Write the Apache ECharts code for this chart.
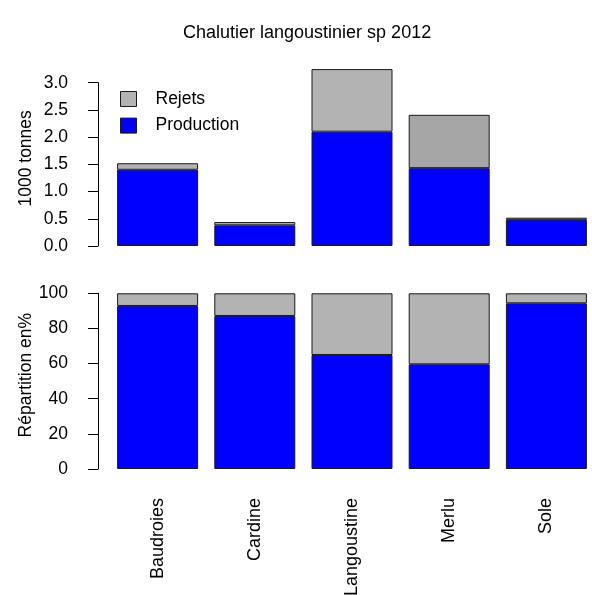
<!DOCTYPE html>
<html>
<head>
<meta charset="utf-8">
<script src="https://cdn.jsdelivr.net/npm/echarts@6/dist/echarts.min.js"></script>
<style>html,body{margin:0;padding:0;background:#fff}#c{width:592px;height:595px}</style>
</head>
<body>
<div id="c"></div>
<script>
const categories = ['Baudroies', 'Cardine', 'Langoustine', 'Merlu', 'Sole'];
const productionT = [1.40, 0.38, 2.10, 1.43, 0.48];
const rejetsT = [0.12, 0.06, 1.15, 0.98, 0.04];
const productionPct = [92.8, 87.1, 64.9, 59.6, 94.3];
const rejetsPct = [7.2, 12.9, 35.1, 40.4, 5.7];
const topTicks = [0, 0.5, 1.0, 1.5, 2.0, 2.5, 3.0];
const pctTicks = [0, 20, 40, 60, 80, 100];

const FONT = 'Liberation Sans, Arial, sans-serif';
const FS = 17.5;
const BLUE = '#0000FF';
const GREY = '#B3B3B3';
const GREY_MERLU = '#A6A6A6';
const EDGE = '#1a1a1a';

const chart = echarts.init(document.getElementById('c'), null, {renderer: 'canvas'});

const gridLeft = 109, gridWidth = 486;
const xAxisCommon = {
  type: 'category', data: categories,
  axisLine: {show: false}, axisTick: {show: false}, splitLine: {show: false}
};
const yCommon = {
  type: 'value', splitLine: {show: false}, offset: 11,
  axisLine: {show: true, lineStyle: {color: '#000', width: 1}},
  axisTick: {show: true, length: 10, lineStyle: {color: '#000'}},
  nameLocation: 'middle', nameRotate: 90, nameGap: 63, nameMoveOverlap: false,
  nameTextStyle: {fontFamily: FONT, fontSize: FS, color: '#000', padding: [0, 0, 0, 12]},
  axisLabel: {fontFamily: FONT, fontSize: FS, color: '#000', margin: 30}
};
const barCommon = {
  type: 'bar', barWidth: 81, clip: false,
  itemStyle: {borderColor: EDGE, borderWidth: 1}
};

chart.setOption({
  animation: false,
  backgroundColor: '#fff',
  title: {
    text: 'Chalutier langoustinier sp 2012', left: 178, top: 19,
    textStyle: {fontFamily: FONT, fontSize: 18, fontWeight: 'normal', color: '#000'}
  },
  legend: {
    orient: 'vertical', left: 120, top: 90, padding: 0,
    itemWidth: 16, itemHeight: 15, itemGap: 8.6,
    icon: 'rect',
    data: [
      {name: 'Rejets', itemStyle: {color: GREY, borderColor: EDGE, borderWidth: 1}},
      {name: 'Production', itemStyle: {color: BLUE, borderColor: EDGE, borderWidth: 1}}
    ],
    textStyle: {fontFamily: FONT, fontSize: FS, lineHeight: 15, color: '#000', padding: [0, 0, 0, 14]}
  },
  grid: [
    {left: gridLeft, width: gridWidth, top: 82.7, height: 163.3, outerBoundsMode: 'none', containLabel: false},
    {left: gridLeft, width: gridWidth, top: 293.3, height: 175.7, outerBoundsMode: 'none', containLabel: false}
  ],
  xAxis: [
    Object.assign({gridIndex: 0, axisLabel: {show: false}}, xAxisCommon),
    Object.assign({gridIndex: 1, axisLabel: {
      rotate: 90, margin: 29, interval: 0, padding: [7, 0, 0, 0],
      fontFamily: FONT, fontSize: 18, color: '#000'
    }}, xAxisCommon)
  ],
  yAxis: [
    Object.assign({}, yCommon, {
      gridIndex: 0, min: 0, max: 3, interval: 0.5, name: '1000 tonnes',
      axisLabel: Object.assign({}, yCommon.axisLabel, {formatter: v => v.toFixed(1)})
    }),
    Object.assign({}, yCommon, {
      gridIndex: 1, min: 0, max: 100, interval: 20, name: 'Répartition en%'
    })
  ],
  series: [
    Object.assign({}, barCommon, {name: 'Production', stack: 't', xAxisIndex: 0, yAxisIndex: 0,
      data: productionT, itemStyle: Object.assign({}, barCommon.itemStyle, {color: BLUE})}),
    Object.assign({}, barCommon, {name: 'Rejets', stack: 't', xAxisIndex: 0, yAxisIndex: 0,
      data: rejetsT.map((v, i) => categories[i] === 'Merlu' ? {value: v, itemStyle: {color: GREY_MERLU}} : v),
      itemStyle: Object.assign({}, barCommon.itemStyle, {color: GREY})}),
    Object.assign({}, barCommon, {name: 'Production', stack: 'p', xAxisIndex: 1, yAxisIndex: 1,
      data: productionPct, itemStyle: Object.assign({}, barCommon.itemStyle, {color: BLUE})}),
    Object.assign({}, barCommon, {name: 'Rejets', stack: 'p', xAxisIndex: 1, yAxisIndex: 1,
      data: rejetsPct, itemStyle: Object.assign({}, barCommon.itemStyle, {color: GREY})})
  ]
});
</script>
</body>
</html>
